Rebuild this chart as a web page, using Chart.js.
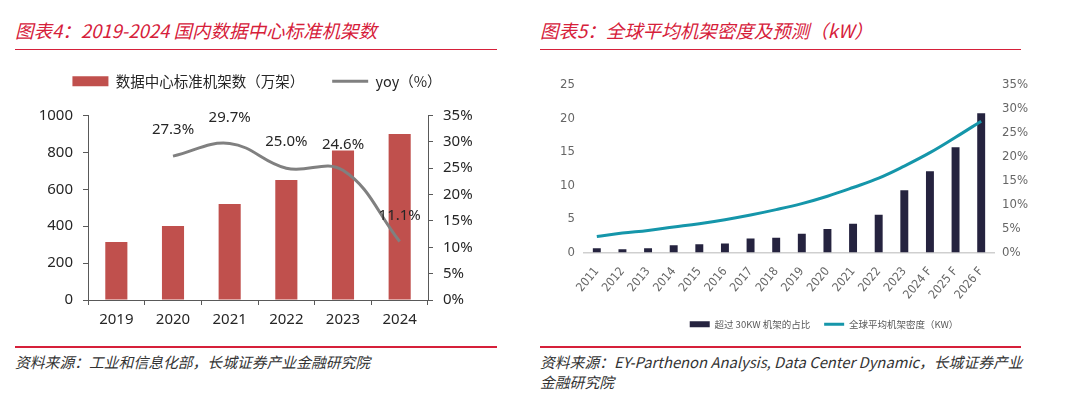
<!DOCTYPE html>
<html><head><meta charset="utf-8">
<script src="https://cdn.jsdelivr.net/npm/chart.js@4.4.1/dist/chart.umd.min.js"></script>
<style>
html,body{margin:0;padding:0;background:#fff;width:1080px;height:398px;overflow:hidden;position:relative;font-family:"Noto Sans","Noto Sans CJK SC",sans-serif;}
.title{position:absolute;top:17px;font-size:18.5px;font-style:italic;color:#d6203a;font-family:"Noto Sans CJK SC","Noto Sans",sans-serif;white-space:nowrap;line-height:26px;}
.rule{position:absolute;height:1.5px;background:#d6203a;}
.src{position:absolute;font-size:14.8px;font-style:italic;color:#333;font-family:"Noto Sans CJK SC","Noto Sans",sans-serif;line-height:20px;white-space:nowrap;}
canvas{position:absolute;}
</style></head>
<body>
<div class="title" style="left:15px;">图表4：2019-2024 国内数据中心标准机架数</div>
<div class="rule" style="left:15px;top:48.5px;width:482px;"></div>
<div class="title" style="left:540px;">图表5：全球平均机架密度及预测（kW）</div>
<div class="rule" style="left:540px;top:48.5px;width:481px;"></div>
<div class="rule" style="left:15px;top:346px;width:482px;"></div>
<div class="rule" style="left:540px;top:346px;width:481px;"></div>
<div class="src" style="left:15px;top:352px;">资料来源：工业和信息化部，长城证券产业金融研究院</div>
<div class="src" style="left:540px;top:352px;">资料来源：EY-Parthenon Analysis, Data Center Dynamic，长城证券产业<br>金融研究院</div>
<canvas id="c1" width="514" height="289" style="left:0;top:46px;"></canvas>
<canvas id="c2" width="558" height="285" style="left:545px;top:62px;"></canvas>
<script>
// ---- Chart 4 data ----
const years4 = ['2019','2020','2021','2022','2023','2024'];
const racks4 = [315, 401, 520, 650, 810, 900];
const yoy4 = [null, 27.3, 29.7, 25.0, 24.6, 11.1];
const rackLabel4 = '数据中心标准机架数（万架）';
const yoyLabel4 = 'yoy（%）';

// ---- Chart 5 data ----
const years5 = ['2011','2012','2013','2014','2015','2016','2017','2018','2019','2020','2021','2022','2023','2024 F','2025 F','2026 F'];
const share30kw5 = [0.9, 0.7, 0.9, 1.5, 1.7, 1.9, 2.9, 3.1, 3.9, 4.9, 6.0, 7.9, 13.0, 17.0, 22.0, 29.1];
const density5 = [2.4, 2.9, 3.3, 3.8, 4.3, 4.9, 5.6, 6.4, 7.3, 8.4, 9.7, 11.1, 12.9, 14.9, 17.2, 19.6];
const shareLabel5 = '超过 30KW 机架的占比';
const densityLabel5 = '全球平均机架密度（KW）';

function legendItems(chart){
  const items = Chart.defaults.plugins.legend.labels.generateLabels(chart);
  items.forEach(it => {
    const ds = chart.data.datasets[it.datasetIndex];
    it.pointStyle = ds.type === 'line' ? 'line' : 'rect';
    if (ds.type === 'line') { it.lineWidth = ds.borderWidth; it.strokeStyle = ds.borderColor; }
    else { it.lineWidth = 0; }
  });
  items.sort((a,b)=>a.datasetIndex-b.datasetIndex);
  return items;
}

// adds extra space under the legend so the plot starts lower
function legendGap(extra){
  return {
    id:'legendGap',
    beforeLayout(chart){
      const lg = chart.legend;
      if (lg && !lg._gapPatched){
        const orig = lg.fit;
        lg.fit = function(){ orig.call(this); this.height += extra; };
        lg._gapPatched = true;
      }
    }
  };
}

const valueLabels = {
  id:'valueLabels',
  afterDatasetsDraw(chart){
    const ctx = chart.ctx;
    const meta = chart.getDatasetMeta(1);
    ctx.save();
    ctx.font = '15px "Noto Sans","Noto Sans CJK SC",sans-serif';
    ctx.fillStyle = '#262626';
    ctx.textAlign = 'center';
    ctx.textBaseline = 'middle';
    meta.data.forEach((pt,i)=>{
      const v = chart.data.datasets[1].data[i];
      if (v === null || v === undefined) return;
      ctx.fillText(v.toFixed(1)+'%', pt.x, pt.y - 26);
    });
    ctx.restore();
  }
};

const axisCol = '#595959';
const f1 = {family:'"Noto Sans","Noto Sans CJK SC",sans-serif', size:15};

new Chart(document.getElementById('c1'), {
  data:{
    labels: years4,
    datasets:[
      {type:'bar', label:rackLabel4, data:racks4, backgroundColor:'#c0504d', yAxisID:'y', barPercentage:0.39, categoryPercentage:1, order:2},
      {type:'line', label:yoyLabel4, data:yoy4, borderColor:'#808080', backgroundColor:'#808080', borderWidth:3, pointRadius:0, tension:0.4, yAxisID:'y1', order:1}
    ]
  },
  options:{
    responsive:false, animation:false,
    layout:{padding:{top:0,bottom:0,left:0,right:0}},
    plugins:{
      tooltip:{enabled:false},
      legend:{display:true, position:'top',
        labels:{usePointStyle:true, pointStyleWidth:36, boxHeight:10, padding:28, color:'#262626',
          font:{family:'"Noto Sans CJK SC","Noto Sans",sans-serif', size:14.5},
          generateLabels: legendItems}}
    },
    scales:{
      x:{grid:{display:true, drawOnChartArea:false, drawTicks:true, tickLength:5, color:axisCol, offset:true},
         border:{display:true,color:axisCol,width:1},
         ticks:{color:'#262626', font:f1, padding:6},
         afterFit(s){ s.height = 35; }},
      y:{position:'left', min:0, max:1000, ticks:{stepSize:200, color:'#262626', font:f1, padding:10, callback:v=>String(v)},
         grid:{display:true, drawOnChartArea:false, drawTicks:true, tickLength:5, color:axisCol},
         border:{display:true,color:axisCol,width:1},
         afterFit(s){ s.width = 88; }},
      y1:{position:'right', min:0, max:35, ticks:{stepSize:5, color:'#262626', font:f1, padding:10, callback:v=>v+'%'},
         grid:{display:true, drawOnChartArea:false, drawTicks:true, tickLength:5, color:axisCol},
         border:{display:true,color:axisCol,width:1},
         afterFit(s){ s.width = 86; }}
    }
  },
  plugins:[valueLabels, legendGap(17)]
});

const f2 = {family:'"Liberation Sans Narrow","DejaVu Sans Condensed",Lato,sans-serif', size:13};
const tickCol2 = '#666666';

new Chart(document.getElementById('c2'), {
  data:{
    labels: years5,
    datasets:[
      {type:'bar', label:shareLabel5, data:share30kw5, backgroundColor:'#25233f', yAxisID:'y1', barPercentage:0.31, categoryPercentage:1, order:2},
      {type:'line', label:densityLabel5, data:density5, borderColor:'#1596aa', backgroundColor:'#1596aa', borderWidth:3, pointRadius:0, tension:0.4, yAxisID:'y', order:1}
    ]
  },
  options:{
    responsive:false, animation:false,
    layout:{padding:{top:23,bottom:8,left:0,right:0}},
    plugins:{
      tooltip:{enabled:false},
      legend:{display:true, position:'bottom',
        labels:{usePointStyle:true, pointStyleWidth:20, boxHeight:6, padding:14, color:'#595959',
          font:{family:'"Noto Sans CJK SC","Noto Sans",sans-serif', size:9.5},
          generateLabels: legendItems}}
    },
    scales:{
      x:{grid:{display:false, drawTicks:false, tickLength:0}, border:{display:true,color:'#cfcfcf',width:1.5},
         ticks:{color:tickCol2, font:{family:f2.family,size:12}, minRotation:50, maxRotation:50, padding:12},
         afterFit(s){ s.height = 53; }},
      y:{position:'left', min:0, max:25, ticks:{stepSize:5, color:tickCol2, font:f2, padding:9},
         grid:{display:false, drawTicks:false, tickLength:0}, border:{display:false},
         afterFit(s){ s.width = 39; }},
      y1:{position:'right', min:0, max:35, ticks:{stepSize:5, color:tickCol2, font:f2, padding:8, callback:v=>v+'%'},
         grid:{display:false, drawTicks:false, tickLength:0}, border:{display:false},
         afterFit(s){ s.width = 109; }}
    }
  }
});
</script>
</body></html>
